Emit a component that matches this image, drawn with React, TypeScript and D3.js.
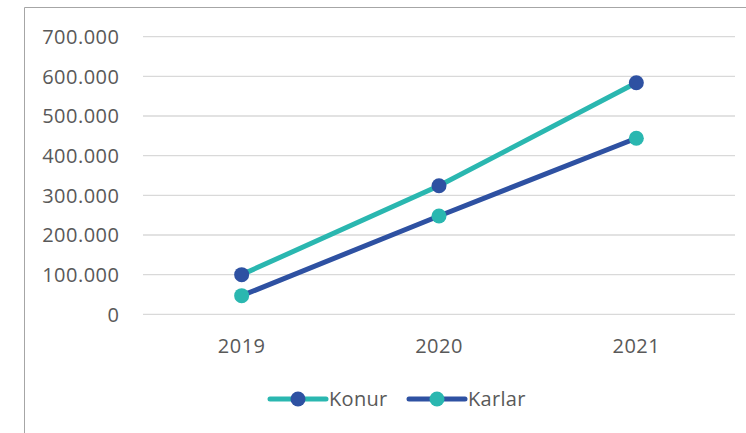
import React from "react";
import * as d3 from "d3";

const categories = ["2019", "2020", "2021"];
const konur = [100000, 324000, 584000];
const karlar = [47000, 248000, 444000];
const yTicks = [0, 100000, 200000, 300000, 400000, 500000, 600000, 700000];
const seriesNames = ["Konur", "Karlar"];

const TEAL = "#2AB7B0";
const BLUE = "#2E51A2";
const TEXT = "#595959";
const FONT = "'Open Sans', sans-serif";

export default function App() {
  const W = 746, H = 433;
  const x = d3.scaleBand<string>().domain(categories).range([143, 735]).padding(0);
  const y = d3.scaleLinear().domain([0, 700000]).range([314.3, 36.7]);
  const cx = (c: string) => (x(c) as number) + x.bandwidth() / 2;
  const line = d3.line<number>().x((_, i) => cx(categories[i])).y((v) => y(v));
  const fmt = (v: number) => (v === 0 ? "0" : d3.format(",.0f")(v).replace(/,/g, "."));

  const series = [
    { name: seriesNames[0], data: konur, lineColor: TEAL, markColor: BLUE },
    { name: seriesNames[1], data: karlar, lineColor: BLUE, markColor: TEAL },
  ];
  const legendX = [270, 409];

  return (
    <svg width={W} height={H} style={{ position: "absolute", left: 0, top: 0, display: "block" }}>
      <rect x={0} y={0} width={W} height={H} fill="#fff" />
      <path d={`M24.5,${H} V7.5 H${W}`} fill="none" stroke="#A6A6A6" strokeWidth={1} />
      {yTicks.map((t) => (
        <g key={t}>
          <line x1={143} x2={735} y1={y(t)} y2={y(t)} stroke="#D9D9D9" strokeWidth={1.3} />
          <text x={119.5} y={y(t)} dy="0.36em" textAnchor="end" fontFamily={FONT} fontSize={20} letterSpacing={0.5} fill={TEXT}>
            {fmt(t)}
          </text>
        </g>
      ))}
      {categories.map((c) => (
        <text key={c} x={cx(c)} y={346} dy="0.36em" textAnchor="middle" fontFamily={FONT} fontSize={20} letterSpacing={0.5} fill={TEXT}>
          {c}
        </text>
      ))}
      {series.map((s) => (
        <g key={s.name}>
          <path d={line(s.data) as string} fill="none" stroke={s.lineColor} strokeWidth={5} strokeLinecap="round" />
          {s.data.map((v, i) => (
            <circle key={i} cx={cx(categories[i])} cy={y(v)} r={7.5} fill={s.markColor} />
          ))}
        </g>
      ))}
      {series.map((s, i) => (
        <g key={s.name} transform={`translate(${legendX[i]},399)`}>
          <line x1={0} x2={56} y1={0} y2={0} stroke={s.lineColor} strokeWidth={5} strokeLinecap="round" />
          <circle cx={28} cy={0} r={7.5} fill={s.markColor} />
          <text x={59} y={0} dy="0.36em" fontFamily={FONT} fontSize={20} letterSpacing={0.3} fill={TEXT}>
            {s.name}
          </text>
        </g>
      ))}
    </svg>
  );
}
